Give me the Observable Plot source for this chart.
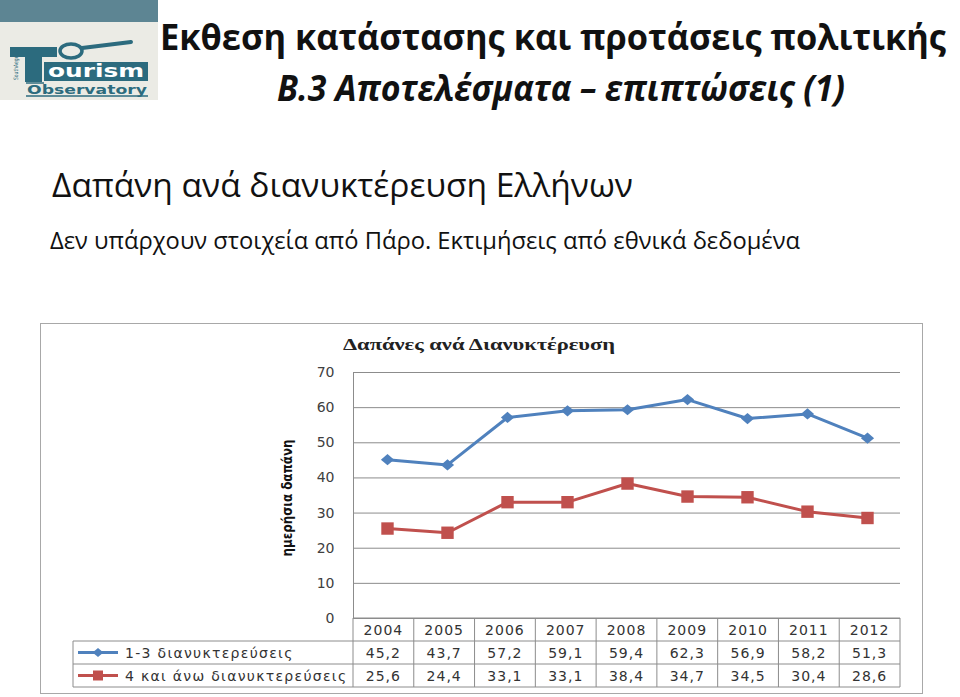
<!DOCTYPE html>
<html><head><meta charset="utf-8">
<script src="https://cdn.jsdelivr.net/npm/d3@7"></script>
<script src="https://cdn.jsdelivr.net/npm/@observablehq/plot@0.6"></script>
<style>
body{margin:0;background:#fff;width:960px;height:697px;overflow:hidden;position:relative}
#slide{position:absolute;left:0;top:0}
#frame{position:absolute;left:40px;top:323px;width:881px;height:369px;border:1px solid #a8a8a8}
#chart{position:absolute;left:40px;top:323px}
</style></head><body>

<svg id="slide" width="960" height="300">
  <text x="160" y="50" font-family="Open Sans" font-weight="700" font-size="35" fill="#111" textLength="786" lengthAdjust="spacingAndGlyphs">Εκθεση κατάστασης και προτάσεις πολιτικής</text>
  <text x="277" y="101" font-family="Open Sans" font-weight="700" font-style="italic" font-size="36" fill="#111" textLength="568" lengthAdjust="spacingAndGlyphs">B.3 Αποτελέσματα – επιπτώσεις  (1)</text>
  <text x="52" y="197" font-family="Open Sans" font-size="32" fill="#111" textLength="581" lengthAdjust="spacingAndGlyphs">Δαπάνη ανά διανυκτέρευση Ελλήνων</text>
  <text x="50" y="249" font-family="Open Sans" font-size="24" fill="#111" textLength="750" lengthAdjust="spacingAndGlyphs">Δεν υπάρχουν στοιχεία από Πάρο. Εκτιμήσεις από εθνικά δεδομένα</text>
  <g>
    <rect x="0" y="0" width="158" height="100" fill="#ebebe5"/>
    <rect x="0" y="0" width="158" height="22" fill="#5d8593"/>
    <rect x="10" y="47" width="47" height="10" fill="#2c6b7e"/>
    <rect x="25" y="47" width="17" height="35" fill="#2c6b7e"/>
    <ellipse cx="71" cy="51" rx="11" ry="7" fill="none" stroke="#2c6b7e" stroke-width="3.5"/>
    <line x1="82" y1="48" x2="131" y2="42" stroke="#2c6b7e" stroke-width="4" stroke-linecap="round"/>
    <rect x="44" y="62" width="104" height="19" fill="#2c6b7e"/>
    <text x="96" y="77" text-anchor="middle" font-family="DejaVu Sans" font-weight="700" font-size="17" fill="#fff" textLength="96" lengthAdjust="spacingAndGlyphs">ourism</text>
    <text x="87" y="94" text-anchor="middle" font-family="DejaVu Sans" font-weight="700" font-size="12" fill="#2c6b7e" textLength="120" lengthAdjust="spacingAndGlyphs">Observatory</text>
    <line x1="26" y1="96" x2="148" y2="96" stroke="#2c6b7e" stroke-width="1.5"/>
    <line x1="26" y1="83" x2="44" y2="83" stroke="#2c6b7e" stroke-width="1.5"/>
    <text transform="translate(18,80) rotate(-90)" font-family="DejaVu Sans" font-size="6" fill="#2c6b7e" textLength="30" lengthAdjust="spacingAndGlyphs">SouthAegean</text>
  </g>
</svg>

<div id="frame"></div>
<div id="chart"></div>

<script>
// ---- data ----
const years = ["2004","2005","2006","2007","2008","2009","2010","2011","2012"];
const nights13 = [45.2, 43.7, 57.2, 59.1, 59.4, 62.3, 56.9, 58.2, 51.3];
const nights4plus = [25.6, 24.4, 33.1, 33.1, 38.4, 34.7, 34.5, 30.4, 28.6];
const seriesNames = ["1-3 διανυκτερεύσεις", "4 και άνω διανυκτερεύσεις"];
const seriesColors = ["#4f81bd", "#c0504d"];
const yTicks = [0, 10, 20, 30, 40, 50, 60, 70];
const chartTitle = "Δαπάνες ανά Διανυκτέρευση";
const yLabel = "ημερήσια δαπάνη";

const rows1 = years.map((year, i) => ({year, value: nights13[i], series: seriesNames[0]}));
const rows2 = years.map((year, i) => ({year, value: nights4plus[i], series: seriesNames[1]}));
const seriesRows = [rows1, rows2];

// Excel-like diamond marker
const diamond = {
  draw(ctx, size) {
    const a = Math.sqrt(size / Math.PI) * 1.2;
    ctx.moveTo(0, -a * 0.85); ctx.lineTo(a, 0); ctx.lineTo(0, a * 0.85); ctx.lineTo(-a, 0); ctx.closePath();
  }
};
const symbols = [diamond, "square"];
const symbolR = [5.5, 7];

const gridColor = "#8c8c8c";
const numFont = "DejaVu Sans, Verdana, sans-serif";

const plot = Plot.plot({
  width: 883, height: 371,
  marginLeft: 313, marginRight: 23, marginTop: 49, marginBottom: 76,
  x: {type: "band", domain: years, padding: 0, axis: null},
  y: {domain: [0, 70]},
  style: {background: "transparent", overflow: "visible"},
  marks: [
    Plot.gridY(yTicks, {stroke: gridColor, strokeOpacity: 1, strokeWidth: 1}),
    Plot.axisY(yTicks, {tickSize: 0, tickPadding: 19, fontSize: 14, fontFamily: numFont, fill: "#404040", label: null, letterSpacing: 1}),
    Plot.frame({anchor: "left", stroke: gridColor}),
    ...seriesRows.map((rows, k) => Plot.line(rows, {x: "year", y: "value", stroke: seriesColors[k], strokeWidth: 3})),
    ...seriesRows.map((rows, k) => Plot.dot(rows, {x: "year", y: "value", symbol: symbols[k], r: symbolR[k], fill: seriesColors[k], stroke: "none"}))
  ]
});
document.getElementById("chart").appendChild(plot);

// ---- title, y label and data table, positioned from the plot's scales ----
const xs = plot.scale("x"), ys = plot.scale("y");
const [r0, r1] = xs.range;
const step = (r1 - r0) / years.length;
const bandStart = y => r0 + years.indexOf(y) * step;
const svg = d3.select(plot);
const yZero = ys.apply(0);
const rowH = 23;
const xLeft = r0;
const xRight = r1;
const legendLeft = 33;

svg.append("text").attr("x", 439).attr("y", ys.apply(70) - 22)
  .attr("text-anchor", "middle").attr("font-family", "Liberation Serif, Times New Roman, serif")
  .attr("font-weight", "bold").attr("font-size", 16).attr("fill", "#222")
  .attr("textLength", 272).attr("lengthAdjust", "spacingAndGlyphs").text(chartTitle);

svg.append("text").attr("transform", `translate(${xLeft - 61},${(ys.apply(0) + ys.apply(70)) / 2 + 3}) rotate(-90)`)
  .attr("text-anchor", "middle").attr("font-family", "Liberation Sans Narrow, DejaVu Sans Condensed, sans-serif")
  .attr("font-weight", "bold").attr("font-size", 14).attr("fill", "#111")
  .attr("textLength", 117).attr("lengthAdjust", "spacingAndGlyphs").text(yLabel);

const tbl = svg.append("g").attr("stroke", gridColor).attr("fill", "none");
tbl.append("line").attr("x1", xLeft).attr("x2", xRight).attr("y1", yZero).attr("y2", yZero);
for (let r = 1; r <= 3; r++) {
  tbl.append("line").attr("x1", legendLeft).attr("x2", xRight).attr("y1", yZero + r * rowH).attr("y2", yZero + r * rowH);
}
tbl.append("line").attr("x1", legendLeft).attr("x2", legendLeft).attr("y1", yZero + rowH).attr("y2", yZero + 3 * rowH);
tbl.append("line").attr("x1", xLeft).attr("x2", xLeft).attr("y1", yZero).attr("y2", yZero + 3 * rowH);
years.forEach(y => {
  const x = bandStart(y) + step;
  tbl.append("line").attr("x1", x).attr("x2", x).attr("y1", yZero).attr("y2", yZero + 3 * rowH);
});

const fmt = v => v.toFixed(1).replace(".", ",");
const txt = svg.append("g").attr("font-family", numFont).attr("font-size", 14).attr("fill", "#333")
  .attr("letter-spacing", 1).attr("text-anchor", "middle");
years.forEach((y, i) => {
  const cx = bandStart(y) + step / 2;
  txt.append("text").attr("x", cx).attr("y", yZero + rowH * 0.5).attr("dy", "0.36em").text(y);
  txt.append("text").attr("x", cx).attr("y", yZero + rowH * 1.5).attr("dy", "0.36em").text(fmt(nights13[i]));
  txt.append("text").attr("x", cx).attr("y", yZero + rowH * 2.5).attr("dy", "0.36em").text(fmt(nights4plus[i]));
});

seriesNames.forEach((name, k) => {
  const cy = yZero + rowH * (1.5 + k);
  svg.append("line").attr("x1", legendLeft + 5).attr("x2", legendLeft + 45).attr("y1", cy).attr("y2", cy)
    .attr("stroke", seriesColors[k]).attr("stroke-width", 3);
  const sym = k === 0 ? d3.symbol(diamond, Math.PI * 4.5 * 4.5) : d3.symbol(d3.symbolSquare, 100);
  svg.append("path").attr("d", sym()).attr("transform", `translate(${legendLeft + 25},${cy})`).attr("fill", seriesColors[k]);
  svg.append("text").attr("x", legendLeft + 52).attr("y", cy).attr("dy", "0.36em").attr("text-anchor", "start")
    .attr("font-family", numFont).attr("font-size", 14).attr("letter-spacing", 1.3).attr("fill", "#333").text(name);
});
</script>
</body></html>
